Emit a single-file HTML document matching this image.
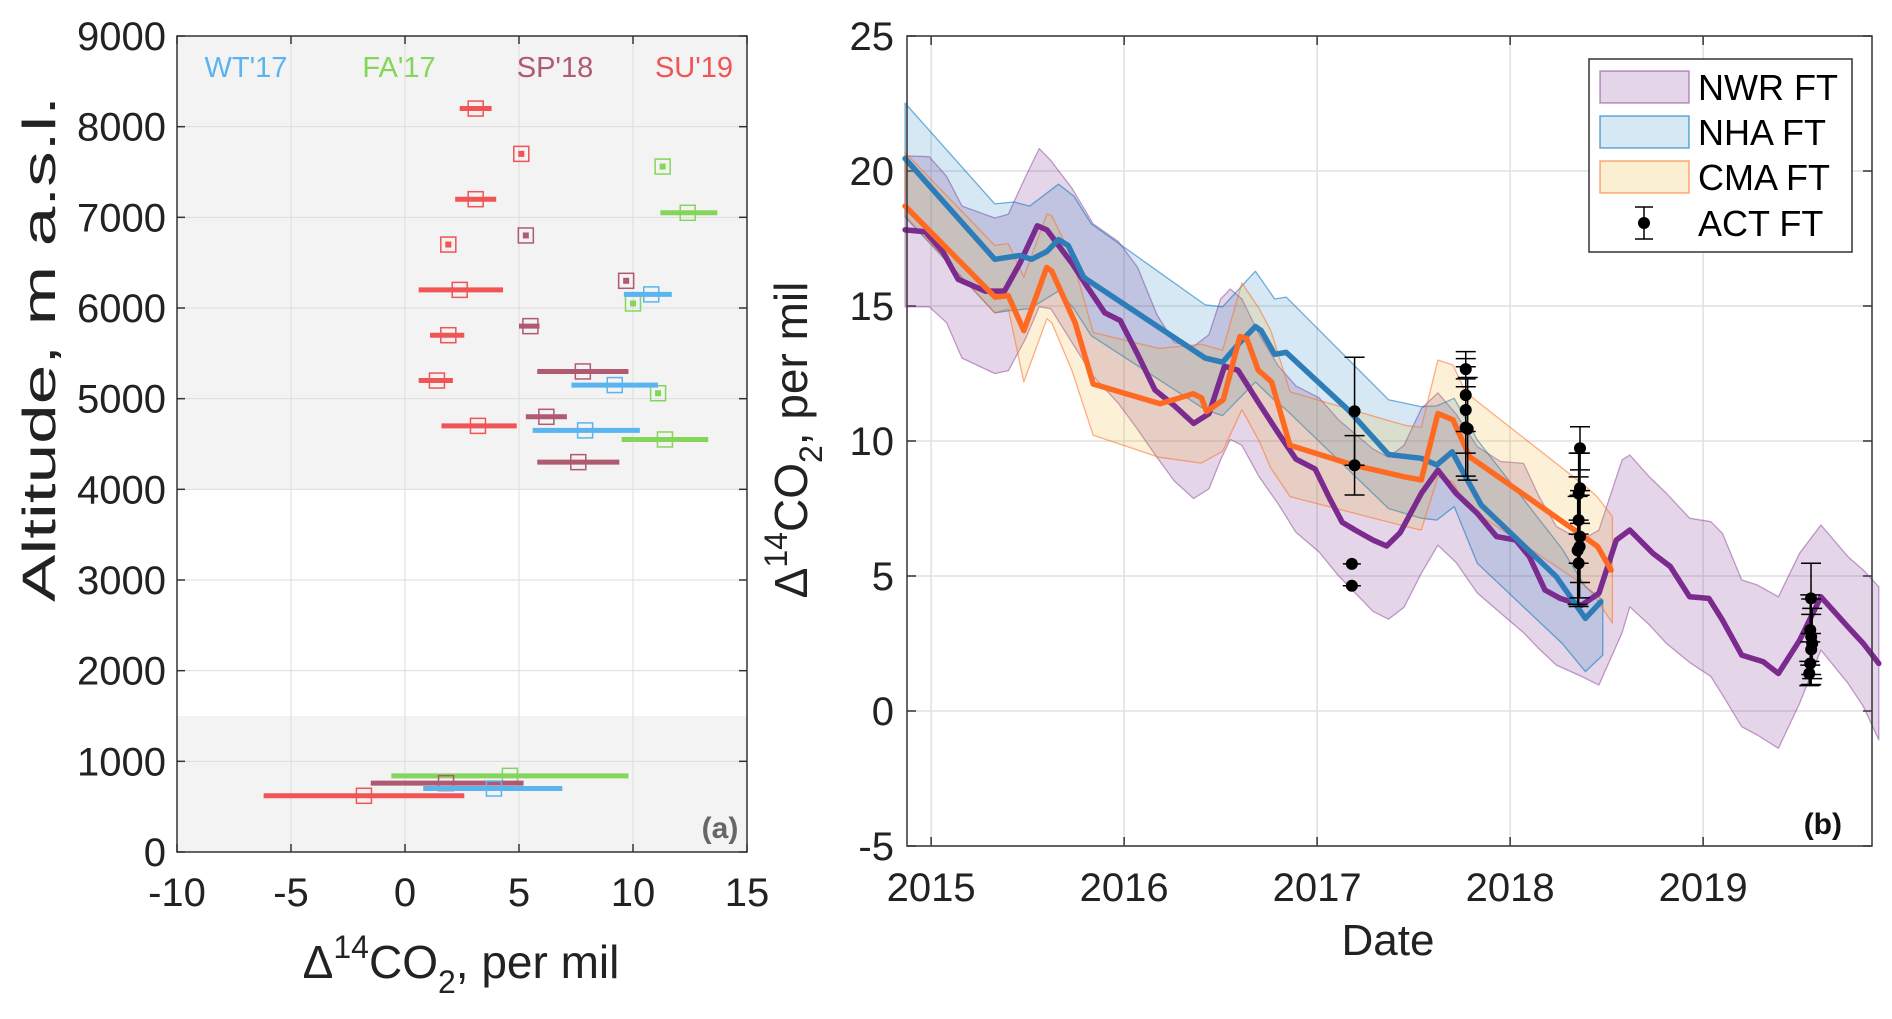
<!DOCTYPE html>
<html><head><meta charset="utf-8">
<style>
html,body{margin:0;padding:0;background:#fff;}
svg{display:block;font-family:"Liberation Sans",Arial,sans-serif;}
</style></head>
<body>
<svg id="chart" width="1892" height="1019" viewBox="0 0 1892 1019" xmlns="http://www.w3.org/2000/svg">
<g id="panelA"></g>
<g id="panelB"></g>
</svg>
<script>
// ---------- Panel (a) data ----------
const aXTicks = [-10, -5, 0, 5, 10, 15];
const aYTicks = [0, 1000, 2000, 3000, 4000, 5000, 6000, 7000, 8000, 9000];
const wtAlt = [6150, 5150, 4650, 700];
const wtVal = [10.8, 9.2, 7.9, 3.9];
const wtLo  = [9.6, 7.3, 5.6, 0.8];
const wtHi  = [11.7, 11.1, 10.3, 6.9];
const faAlt = [7560, 7050, 6050, 5060, 4550, 840];
const faVal = [11.3, 12.4, 10.0, 11.1, 11.4, 4.6];
const faLo  = [null, 11.2, null, null, 9.5, -0.6];
const faHi  = [null, 13.7, null, null, 13.3, 9.8];
const spAlt = [6800, 6300, 5800, 5300, 4800, 4300, 760];
const spVal = [5.3, 9.7, 5.5, 7.8, 6.2, 7.6, 1.8];
const spLo  = [null, null, 5.0, 5.8, 5.3, 5.8, -1.5];
const spHi  = [null, null, 5.9, 9.8, 7.1, 9.4, 5.2];
const suAlt = [8200, 7700, 7200, 6700, 6200, 5700, 5200, 4700, 620];
const suVal = [3.1, 5.1, 3.1, 1.9, 2.4, 1.9, 1.4, 3.2, -1.8];
const suLo  = [2.4, null, 2.2, null, 0.6, 1.1, 0.6, 1.6, -6.2];
const suHi  = [3.8, null, 4.0, null, 4.3, 2.6, 2.1, 4.9, 2.6];

// ---------- Panel (b) data ----------
const bYearTicks = [2015, 2016, 2017, 2018, 2019];
const bYTicks = [-5, 0, 5, 10, 15, 20, 25];
const nwrT = [2014.865,2014.97,2015.06,2015.14,2015.28,2015.38,2015.46,2015.55,2015.6,2015.73,2015.81,2015.9,2015.98,2016.07,2016.16,2016.26,2016.36,2016.44,2016.52,2016.59,2016.7,2016.8,2016.89,2016.99,2017.06,2017.13,2017.2,2017.29,2017.36,2017.43,2017.54,2017.626,2017.72,2017.83,2017.93,2018.03,2018.1,2018.18,2018.26,2018.37,2018.46,2018.55,2018.62,2018.74,2018.83,2018.93,2019.03,2019.1,2019.2,2019.31,2019.39,2019.5,2019.61,2019.75,2019.83,2019.91];
const nwrV = [17.82,17.75,17.02,15.99,15.55,15.55,16.58,17.97,17.82,16.58,15.7,14.75,14.46,13.21,11.89,11.31,10.65,11.01,12.77,12.62,11.38,10.28,9.33,8.96,7.94,6.99,6.69,6.33,6.11,6.6,8.06,8.92,8.06,7.32,6.46,6.33,5.72,4.48,4.17,3.92,4.36,6.33,6.7,5.84,5.35,4.23,4.17,3.37,2.07,1.83,1.39,2.62,4.23,3.12,2.5,1.76];
const nwrBandT = [2014.865,2014.99,2015.08,2015.16,2015.33,2015.4,2015.49,2015.56,2015.62,2015.73,2015.84,2015.97,2016.07,2016.17,2016.26,2016.36,2016.44,2016.5,2016.55,2016.61,2016.7,2016.8,2016.89,2017.01,2017.11,2017.29,2017.37,2017.45,2017.54,2017.626,2017.72,2017.83,2017.95,2018.07,2018.15,2018.24,2018.37,2018.46,2018.58,2018.62,2018.72,2018.81,2018.93,2019.04,2019.1,2019.2,2019.28,2019.39,2019.5,2019.61,2019.75,2019.83,2019.91];
const nwrUp = [20.56,20.53,19.8,18.7,18.26,18.4,19.8,20.83,20.39,19.36,18.04,17.39,16.43,14.68,13.65,13.5,13.94,15.26,15.63,15.26,13.94,12.77,12.04,11.6,10.79,9.7,9.4,9.84,11.2,11.78,11.0,9.79,9.24,9.17,7.94,6.83,6.33,6.7,9.3,9.48,8.68,8.06,7.14,7.01,6.58,4.85,4.67,4.23,5.84,6.89,5.72,5.22,4.6];
const nwrLo = [14.97,14.97,14.38,13.07,12.5,12.6,13.8,14.97,14.9,13.65,12.4,11.4,10.43,9.4,8.52,7.87,8.23,9.3,10.06,9.84,8.67,7.65,6.62,5.89,5.01,3.69,3.4,3.84,5.1,6.14,5.5,4.37,3.63,2.9,2.3,1.7,1.28,0.96,2.9,3.86,3.2,2.5,1.8,1.28,0.6,-0.58,-0.89,-1.38,0.28,2.26,1.03,0.17,-1.07];
const nhaT = [2014.865,2015.33,2015.46,2015.52,2015.6,2015.66,2015.71,2015.79,2015.82,2016.42,2016.51,2016.6,2016.68,2016.71,2016.78,2016.84,2017.16,2017.37,2017.54,2017.62,2017.70,2017.76,2017.85,2018.24,2018.39,2018.47];
const nhaV = [20.46,16.73,16.87,16.73,17.02,17.46,17.24,16.07,15.92,13.07,12.92,13.65,14.24,14.09,13.21,13.28,11.16,9.5,9.36,9.11,9.6,8.8,7.63,4.97,3.43,4.04];
const nhaBandT = [2014.865,2015.33,2015.43,2015.51,2015.66,2015.74,2015.83,2016.42,2016.51,2016.68,2016.78,2016.84,2017.37,2017.54,2017.62,2017.71,2017.83,2018.27,2018.39,2018.48];
const nhaUp = [22.51,18.78,18.85,18.7,19.51,19.07,18.04,15.04,14.97,16.29,15.26,15.33,11.53,11.27,11.3,11.58,10.04,6.0,4.6,4.11];
const nhaLo = [18.3,14.75,14.85,14.9,15.55,14.9,13.9,11.16,10.94,12.19,11.5,11.16,7.5,7.14,7.07,7.57,5.47,2.5,1.46,2.07];
const cmaT = [2014.865,2015.331,2015.40,2015.48,2015.599,2015.625,2015.746,2015.84,2016.186,2016.358,2016.401,2016.427,2016.514,2016.60,2016.635,2016.695,2016.764,2016.859,2017.187,2017.455,2017.54,2017.626,2017.704,2017.79,2018.394,2018.454,2018.523];
const cmaV = [18.7,15.33,15.38,14.09,16.43,16.29,14.38,12.11,11.38,11.75,11.6,11.09,11.53,13.87,13.8,12.62,12.19,9.84,9.11,8.67,8.56,11.02,10.78,9.42,6.4,6.09,5.22];
const cmaBandT = [2014.865,2015.33,2015.40,2015.48,2015.6,2015.625,2015.73,2015.84,2016.18,2016.4,2016.51,2016.61,2016.70,2016.76,2016.86,2017.455,2017.54,2017.626,2017.704,2017.77,2018.394,2018.45,2018.53];
const cmaUp = [20.68,17.24,17.31,16.07,18.41,18.34,16.8,14.02,13.43,13.58,13.36,15.85,14.9,14.09,11.82,10.58,10.5,13.0,12.81,11.8,8.3,7.94,7.2];
const cmaLo = [18.34,14.75,14.9,12.19,14.53,14.38,12.6,10.21,9.4,9.18,9.62,11.16,9.99,9.0,7.94,6.84,6.7,8.67,8.49,7.6,4.61,4.11,3.26];
const actT = [2017.194,2017.194,2017.18,2017.18, 2017.77,2017.77,2017.77,2017.77,2017.78, 2018.362,2018.362,2018.355,2018.355,2018.362,2018.36,2018.35,2018.355, 2019.559,2019.555,2019.56,2019.565,2019.56,2019.555,2019.55];
const actV = [11.1,9.1,5.45,4.64, 12.66,11.7,11.15,10.5,10.45, 9.73,8.25,8.05,7.07,6.46,6.09,5.95,5.47, 4.17,3.0,2.75,2.5,2.28,1.76,1.39];
const actE = [2.0,1.1,0,0, 0.65,1.35,1.6,1.8,1.9, 0.8,1.3,1.5,1.6,1.7,1.9,2.0,1.6, 1.3,1.3,1.4,1.3,1.3,0.8,0.45];

const NS = 'http://www.w3.org/2000/svg';
function mk(parent, tag, attrs, text){
  const e = document.createElementNS(NS, tag);
  for (const k in attrs) e.setAttribute(k, attrs[k]);
  if (text !== undefined) e.textContent = text;
  parent.appendChild(e);
  return e;
}

// ====== PANEL A ======
const A = document.getElementById('panelA');
const aL = 177, aR = 747, aT = 36, aB = 852;
const ax = v => aL + (v + 10) / 25 * (aR - aL);
const ay = v => aB - v / 9000 * (aB - aT);
let e;
e = mk(A, 'rect', {x: aL, y: aT, width: aR - aL, height: aB - aT, fill: '#fff'});


e = mk(A, 'rect', {x: aL, y: ay(9000), width: aR - aL, height: ay(4000) - ay(9000), fill: '#f3f3f3'});


e = mk(A, 'rect', {x: aL, y: ay(1500), width: aR - aL, height: ay(0) - ay(1500), fill: '#f3f3f3'});


aXTicks.forEach(t => {
  e = mk(A, 'line', {x1: ax(t), x2: ax(t), y1: aT, y2: aB, stroke: '#dcdcdc', 'stroke-width': 1});
  
  
  mk(A, 'line', {x1: ax(t), x2: ax(t), y1: aB, y2: aB - 8, stroke: '#333', 'stroke-width': 1.5});
  mk(A, 'line', {x1: ax(t), x2: ax(t), y1: aT, y2: aT + 8, stroke: '#333', 'stroke-width': 1.5});
  e = mk(A, 'text', {x: ax(t), y: 906, 'font-size': 40, 'text-anchor': 'middle', fill: '#222'}, String(t));
  
  
});
aYTicks.forEach(t => {
  e = mk(A, 'line', {x1: aL, x2: aR, y1: ay(t), y2: ay(t), stroke: '#dcdcdc', 'stroke-width': 1});
  
  
  mk(A, 'line', {x1: aL, x2: aL + 8, y1: ay(t), y2: ay(t), stroke: '#333', 'stroke-width': 1.5});
  mk(A, 'line', {x1: aR, x2: aR - 8, y1: ay(t), y2: ay(t), stroke: '#333', 'stroke-width': 1.5});
  e = mk(A, 'text', {x: 166, y: ay(t) + 14, 'font-size': 40, 'text-anchor': 'end', fill: '#222'}, String(t));
  
  
});
function campaign(alt, val, lo, hi, color, name){
  const g = mk(A, 'g', {});
  
  
  alt.forEach((a, i) => {
    if (lo[i] !== null) {
      e = mk(g, 'line', {x1: ax(lo[i]), x2: ax(hi[i]), y1: ay(a), y2: ay(a), stroke: color, 'stroke-width': 5});
      
      
    } else {
      mk(g, 'rect', {x: ax(val[i]) - 3, y: ay(a) - 3, width: 6, height: 6, fill: color});
    }
    e = mk(g, 'rect', {x: ax(val[i]) - 7.5, y: ay(a) - 7.5, width: 15, height: 15, fill: 'none', stroke: color, 'stroke-width': 1.5});
    
    
  });
}
campaign(faAlt, faVal, faLo, faHi, '#84d65a', 'fa17');
campaign(spAlt, spVal, spLo, spHi, '#b05a72', 'sp18');
campaign(wtAlt, wtVal, wtLo, wtHi, '#5ab4f0', 'wt17');
campaign(suAlt, suVal, suLo, suHi, '#f05454', 'su19');
[['WT\'17', 246, '#5ab4f0'], ['FA\'17', 399, '#84d65a'], ['SP\'18', 555, '#b05a72'], ['SU\'19', 694, '#f05454']].forEach(l => {
  e = mk(A, 'text', {x: l[1], y: 77, 'font-size': 29, 'text-anchor': 'middle', fill: l[2]}, l[0]);
  
  
});
e = mk(A, 'rect', {x: aL, y: aT, width: aR - aL, height: aB - aT, fill: 'none', stroke: '#333', 'stroke-width': 1.5});
e = mk(A, 'text', {x: 720, y: 838, 'font-size': 30, 'font-weight': 'bold', 'text-anchor': 'middle', fill: '#666'}, '(a)');


e = mk(A, 'text', {x: 461, y: 978, 'font-size': 46, 'text-anchor': 'middle', fill: '#222'});


e.innerHTML = 'Δ<tspan dy="-20" font-size="32">14</tspan><tspan dy="20">CO</tspan><tspan dy="15" font-size="32">2</tspan><tspan dy="-15">, per mil</tspan>';
e = mk(A, 'text', {x: 0, y: 0, 'font-size': 46, 'text-anchor': 'middle', fill: '#222', textLength: 506, lengthAdjust: 'spacingAndGlyphs', transform: 'translate(55,349) rotate(-90)'}, 'Altitude, m a.s.l.');



// ====== PANEL B ======
const B = document.getElementById('panelB');
const bL = 907, bR = 1872, bT = 36, bB = 846;
const bx = t => bL + (t - 2014.875) / 5 * (bR - bL);
const by = v => bB - (v + 5) / 30 * (bB - bT);
bYearTicks.forEach(t => {
  e = mk(B, 'line', {x1: bx(t), x2: bx(t), y1: bT, y2: bB, stroke: '#e0e0e0', 'stroke-width': 1.5});
  
  
  mk(B, 'line', {x1: bx(t), x2: bx(t), y1: bB, y2: bB - 9, stroke: '#333', 'stroke-width': 1.5});
  mk(B, 'line', {x1: bx(t), x2: bx(t), y1: bT, y2: bT + 9, stroke: '#333', 'stroke-width': 1.5});
  e = mk(B, 'text', {x: bx(t), y: 901, 'font-size': 40, 'text-anchor': 'middle', fill: '#222'}, String(t));
  
  
});
bYTicks.forEach(t => {
  e = mk(B, 'line', {x1: bL, x2: bR, y1: by(t), y2: by(t), stroke: '#e0e0e0', 'stroke-width': 1.5});
  
  
  mk(B, 'line', {x1: bL, x2: bL + 9, y1: by(t), y2: by(t), stroke: '#333', 'stroke-width': 1.5});
  mk(B, 'line', {x1: bR, x2: bR - 9, y1: by(t), y2: by(t), stroke: '#333', 'stroke-width': 1.5});
  e = mk(B, 'text', {x: 894, y: by(t) + 14, 'font-size': 40, 'text-anchor': 'end', fill: '#222'}, String(t));
  
  
});
function band(T, up, lo, fill, stroke, name){
  let d = 'M' + T.map((t, i) => bx(t).toFixed(1) + ',' + by(up[i]).toFixed(1)).join(' L');
  for (let i = T.length - 1; i >= 0; i--) d += ' L' + bx(T[i]).toFixed(1) + ',' + by(lo[i]).toFixed(1);
  d += ' Z';
  const p = mk(B, 'path', {d: d, fill: fill, stroke: stroke, 'stroke-width': 1.3, 'stroke-linejoin': 'round'});
  
  
}
function line(T, V, color, w, name){
  const d = 'M' + T.map((t, i) => bx(t).toFixed(1) + ',' + by(V[i]).toFixed(1)).join(' L');
  const p = mk(B, 'path', {d: d, fill: 'none', stroke: color, 'stroke-width': w, 'stroke-linejoin': 'round', 'stroke-linecap': 'round'});
  
  
}
band(nwrBandT, nwrUp, nwrLo, 'rgba(126,47,142,0.2)', 'rgba(126,47,142,0.45)', 'nwr-band');
band(nhaBandT, nhaUp, nhaLo, 'rgba(0,114,189,0.16)', 'rgba(0,114,189,0.55)', 'nha-band');
band(cmaBandT, cmaUp, cmaLo, 'rgba(237,177,32,0.18)', 'rgba(255,110,40,0.55)', 'cma-band');
line(nwrT, nwrV, '#7b2a8e', 5.5, 'nwr-line');
line(nhaT, nhaV, '#2f7db8', 5.5, 'nha-line');
line(cmaT, cmaV, '#ff6a22', 5.5, 'cma-line');
actT.forEach((t, i) => {
  const g = mk(B, 'g', {});
  
  
  if (actE[i] > 0) {
    mk(g, 'line', {x1: bx(t), x2: bx(t), y1: by(actV[i] + actE[i]), y2: by(actV[i] - actE[i]), stroke: '#000', 'stroke-width': 1.5});
    mk(g, 'line', {x1: bx(t) - 10, x2: bx(t) + 10, y1: by(actV[i] + actE[i]), y2: by(actV[i] + actE[i]), stroke: '#000', 'stroke-width': 1.5});
    mk(g, 'line', {x1: bx(t) - 10, x2: bx(t) + 10, y1: by(actV[i] - actE[i]), y2: by(actV[i] - actE[i]), stroke: '#000', 'stroke-width': 1.5});
  } else {
    mk(g, 'line', {x1: bx(t) - 9, x2: bx(t) + 9, y1: by(actV[i]), y2: by(actV[i]), stroke: '#000', 'stroke-width': 1.5});
  }
  mk(g, 'circle', {cx: bx(t), cy: by(actV[i]), r: 6, fill: '#000'});
});
e = mk(B, 'rect', {x: bL, y: bT, width: bR - bL, height: bB - bT, fill: 'none', stroke: '#333', 'stroke-width': 1.5});
e = mk(B, 'text', {x: 1842, y: 834, 'font-size': 30, 'font-weight': 'bold', 'text-anchor': 'end', fill: '#111'}, '(b)');


e = mk(B, 'text', {x: 1388, y: 955, 'font-size': 44, 'text-anchor': 'middle', fill: '#222'}, 'Date');


e = mk(B, 'text', {x: 0, y: 0, 'font-size': 46, 'text-anchor': 'middle', fill: '#222', transform: 'translate(807,440) rotate(-90)'});


e.innerHTML = 'Δ<tspan dy="-20" font-size="32">14</tspan><tspan dy="20">CO</tspan><tspan dy="15" font-size="32">2</tspan><tspan dy="-15">, per mil</tspan>';
// legend
const LG = mk(B, 'g', {});


mk(LG, 'rect', {x: 1589, y: 59, width: 263, height: 193, fill: '#fff', stroke: '#333', 'stroke-width': 1.5});
[['NWR FT', 'rgba(126,47,142,0.2)', 'rgba(126,47,142,0.5)', 87], ['NHA FT', 'rgba(0,114,189,0.16)', 'rgba(0,114,189,0.6)', 132], ['CMA FT', 'rgba(237,177,32,0.2)', 'rgba(255,110,40,0.6)', 177]].forEach(l => {
  const g = mk(LG, 'g', {});
  
  
  mk(g, 'rect', {x: 1600, y: l[3] - 16, width: 89, height: 32, fill: l[1], stroke: l[2], 'stroke-width': 1.5});
  mk(g, 'text', {x: 1698, y: l[3] + 13, 'font-size': 36, fill: '#000'}, l[0]);
});
const ga = mk(LG, 'g', {});


mk(ga, 'line', {x1: 1644, x2: 1644, y1: 207, y2: 239, stroke: '#000', 'stroke-width': 1.5});
mk(ga, 'line', {x1: 1635, x2: 1653, y1: 207, y2: 207, stroke: '#000', 'stroke-width': 1.5});
mk(ga, 'line', {x1: 1635, x2: 1653, y1: 239, y2: 239, stroke: '#000', 'stroke-width': 1.5});
mk(ga, 'circle', {cx: 1644, cy: 223, r: 6, fill: '#000'});
mk(ga, 'text', {x: 1698, y: 236, 'font-size': 36, fill: '#000'}, 'ACT FT');
</script>
</body></html>
